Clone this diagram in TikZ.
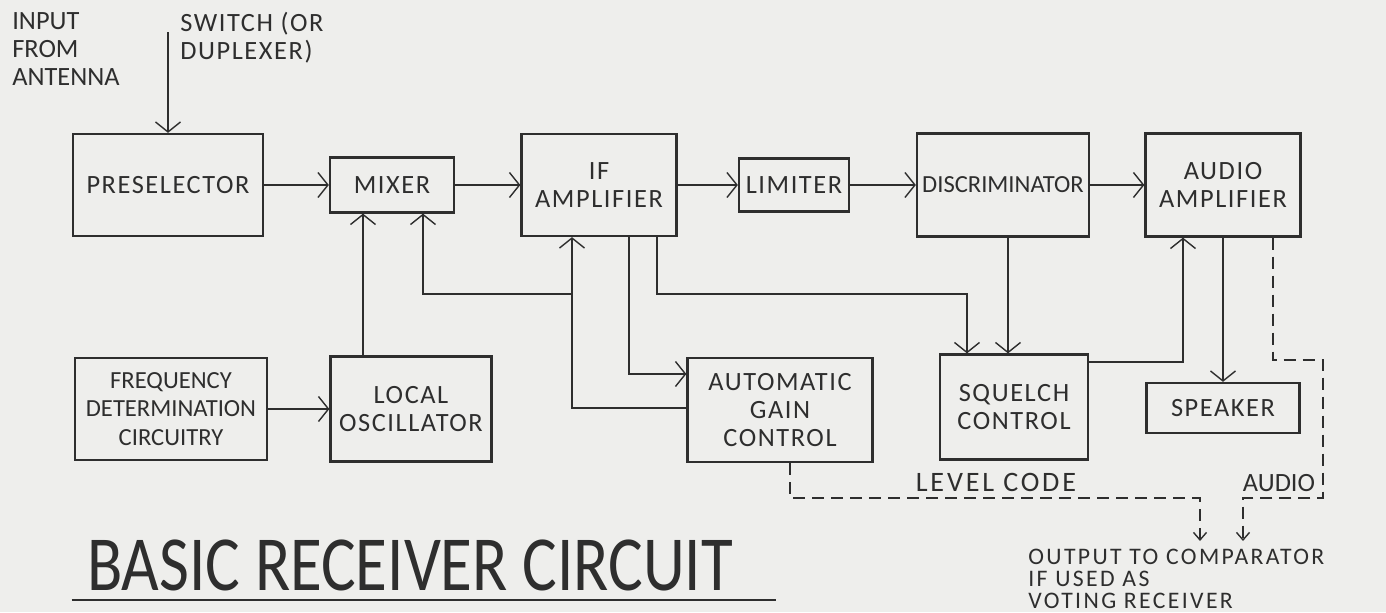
\documentclass[tikz,border=0pt]{standalone}
\usepackage{fontspec}
\setmainfont{Carlito}
\newfontfamily\boxfont[LetterSpace=6]{Carlito}
\newfontfamily\lblfont[LetterSpace=10]{Carlito}
\usetikzlibrary{arrows.meta, positioning, calc}
\definecolor{ink}{HTML}{2E2E2E}
\definecolor{paper}{HTML}{EEEEEC}

\begin{document}
\begin{tikzpicture}[x=0.02cm, y=-0.02cm,
        box/.style={draw=ink, line width=1.3pt, align=center, inner sep=1pt, text=ink, font=\boxfont\fontsize{15}{16}\selectfont},
        arr/.style={-{Straight Barb[length=2mm, width=5mm]}, line width=0.8pt, draw=ink},
        dsh/.style={-{Straight Barb[length=1.5mm, width=2.6mm]}, line width=0.8pt, draw=ink, dash pattern=on 0.24cm off 0.14cm},
        lbl/.style={align=left, inner sep=0pt, text=ink, font=\fontsize{15}{16}\selectfont}
    ]
    \useasboundingbox[fill=paper] (0,0) rectangle (1386,612);

    % top row
    \node[box, minimum width=3.8cm, minimum height=2.04cm] (pre) at (168,185) {PRESELECTOR};
    \node[box, minimum width=2.48cm, minimum height=1.1cm] (mix) at (392,185) {MIXER};
    \node[box, minimum width=3.1cm, minimum height=2.04cm] (ifa) at (599,185) {IF\\AMPLIFIER};
    \node[box, minimum width=2.2cm, minimum height=1.06cm] (lim) at (794,185) {LIMITER};
    \node[box, minimum width=3.44cm, minimum height=2.06cm, font=\rmfamily\fontsize{14}{15}\selectfont] (disc) at (1003,185) {DISCRIMINATOR};
    \node[box, minimum width=3.1cm, minimum height=2.06cm] (aud) at (1223,185) {AUDIO\\AMPLIFIER};

    % bottom row
    \node[box, minimum width=3.84cm, minimum height=2.04cm, font=\rmfamily\fontsize{14}{16}\selectfont] (freq) at (171,409) {FREQUENCY\\DETERMINATION\\CIRCUITRY};
    \node[box, minimum width=3.22cm, minimum height=2.1cm] (lo) at (411,409) {LOCAL\\OSCILLATOR};
    \node[box, minimum width=3.7cm, minimum height=2.08cm] (agc) at (780,410) {AUTOMATIC\\GAIN\\CONTROL};
    \node[box, minimum width=2.96cm, minimum height=2.1cm] (sq) at (1014,407) {SQUELCH\\CONTROL};
    \node[box, minimum width=3.06cm, minimum height=1.0cm] (spk) at (1223,408) {SPEAKER};

    % labels
    \node[lbl, anchor=north west] (antin) at (12,12) {INPUT\\FROM\\ANTENNA};
    \node[lbl, anchor=north west, font=\boxfont\fontsize{15}{16}\selectfont] (sw) at (180,12) {SWITCH (OR\\DUPLEXER)};
    \node[lbl, font=\lblfont\fontsize{16}{17}\selectfont] (lvl) at (996,482) {LEVEL CODE};
    \node[lbl] (audl) at (1279,483) {AUDIO};
    \node[lbl, anchor=north west, font=\lblfont\fontsize{13.5}{12.5}\selectfont] (outtxt) at (1028,549) {OUTPUT TO COMPARATOR\\IF USED AS\\VOTING RECEIVER};
    \node[inner sep=0pt, anchor=base, text=ink, font=\fontsize{37}{40}\selectfont] (ttl) at (410,590) {\scalebox{1}[1.2]{BASIC RECEIVER CIRCUIT}};
    \draw[draw=ink, line width=1pt] ([xshift=-0.3cm, yshift=-0.2cm]ttl.base west) -- ([xshift=0.86cm, yshift=-0.2cm]ttl.base east);

    % signal path
    \coordinate (ant) at (168,32);
    \draw[arr] (ant) -- (pre);
    \draw[arr] (pre) -- (mix);
    \draw[arr] (mix) -- (ifa);
    \draw[arr] (ifa) -- (lim);
    \draw[arr] (lim) -- (disc);
    \draw[arr] (disc) -- (aud);
    \draw[arr] (freq) -- (lo);
    \coordinate (lomix) at (363,0);
    \draw[arr] (lo.north -| lomix) -- (mix.south -| lomix);

    % gain control loop
    \coordinate (fb) at (572,408);
    \coordinate (br) at (572,294);
    \coordinate (mixfb) at (423,294);
    \draw[arr] (agc.west |- fb) -- (fb) -- (ifa.south -| fb);
    \draw[arr] (br) -| (mix.south -| mixfb);
    \coordinate (agcin) at (629,374);
    \draw[arr] (ifa.south -| agcin) |- (agc.west |- agcin);

    % squelch
    \coordinate (sqbus) at (657,294);
    \coordinate (sqin) at (967,294);
    \draw[arr] (ifa.south -| sqbus) -- (sqbus) -- (sqin) -- (sq.north -| sqin);
    \coordinate (dsq) at (1008,0);
    \draw[arr] (disc.south -| dsq) -- (sq.north -| dsq);
    \coordinate (sqaud) at (1183,362);
    \draw[arr] (sq.east |- sqaud) -| (aud.south -| sqaud);
    \draw[arr] (aud.south) -- (spk.north);

    % outputs to comparator
    \coordinate (lc) at (790,498);
    \coordinate (lcout) at (1200,541);
    \draw[dsh] (agc.south -| lc) -- (lc) -| (lcout);
    \coordinate (au1) at (1273,360);
    \coordinate (au2) at (1323,498);
    \coordinate (auout) at (1243,541);
    \draw[dsh] (aud.south -| au1) -- (au1) -| (au2) -| (auout);
\end{tikzpicture}
\end{document}
